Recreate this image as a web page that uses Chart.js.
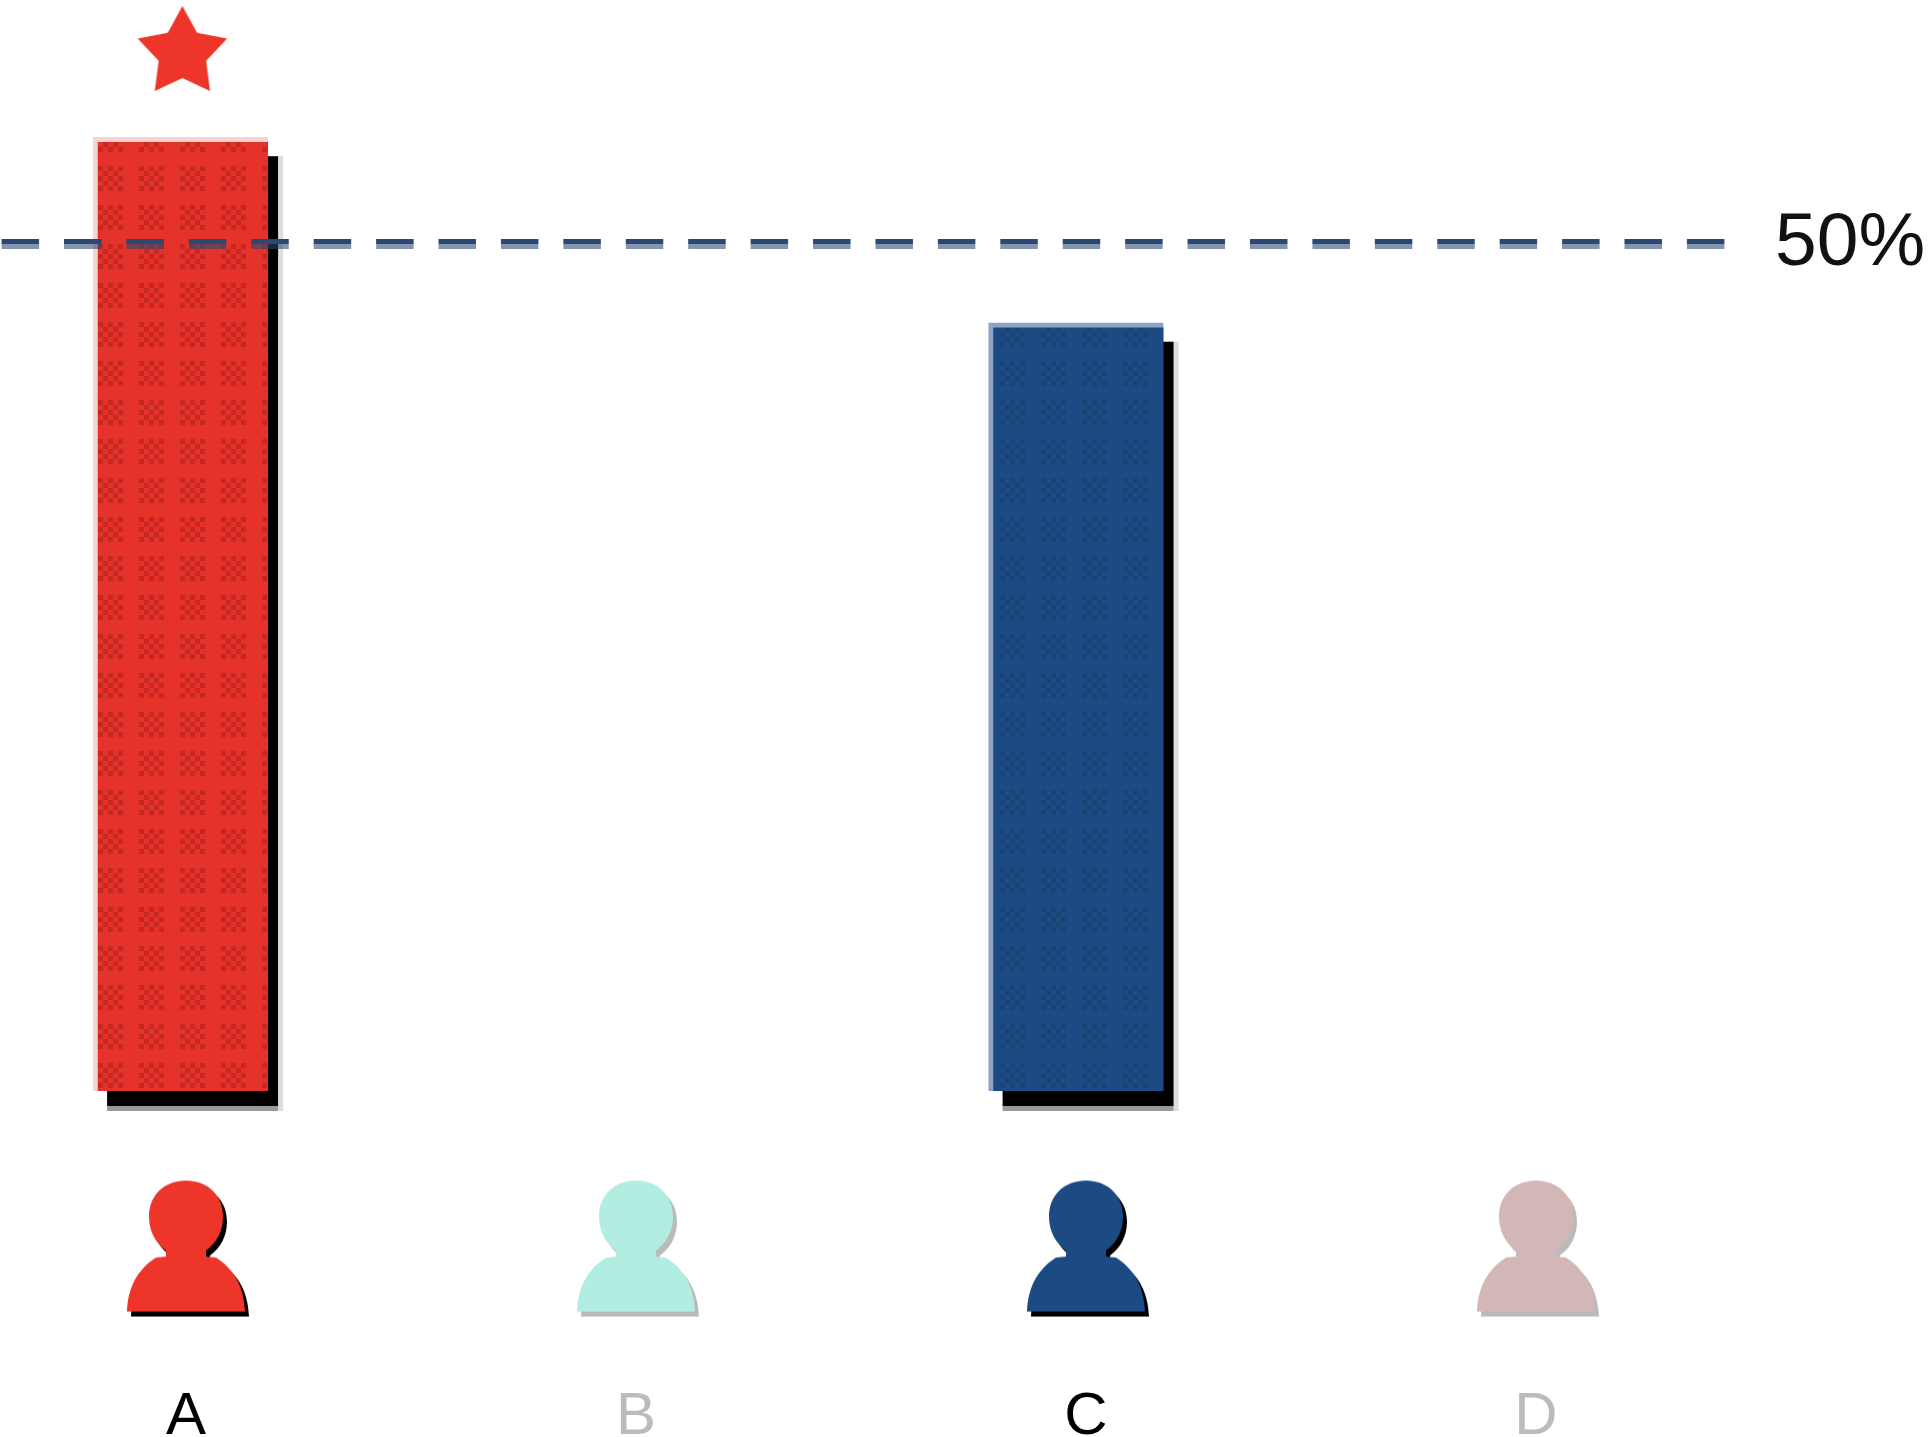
<!DOCTYPE html>
<html>
<head>
<meta charset="utf-8">
<style>html,body{margin:0;padding:0;background:#fff;overflow:hidden}canvas{display:block}</style>
<script src="https://cdn.jsdelivr.net/npm/chart.js@4"></script>
</head>
<body>
<canvas id="c" width="1929" height="1437"></canvas>
<script>
const categories = ['A', 'B', 'C', 'D'];
const categoryPositions = [0, 1, 2, 3];
const barPositions = [-0.012, null, 1.978, null];
const barValues = [56.3, null, 45.35, null];
const iconValues = [-9.18, -9.18, -9.18, -9.18];
const starPosition = [-0.008];
const starValue = [61.27];
const thresholdValue = 50;
const thresholdSpan = [-0.4098, 3.4255];
const thresholdLabel = '50%';
const barFill = ['#e5322b', null, '#1c4a82', null];
const barSpot = ['#b8241d', null, '#17406f', null];
const barEdge = ['#f7d3d1', null, '#8ea4c4', null];
const iconFill = ['#ee3529', '#b2ede1', '#1c4a82', '#d3b7b7'];
const iconShadow = ['#000000', 'rgba(0,0,0,0.27)', '#000000', 'rgba(0,0,0,0.27)'];
const labelColor = ['#000000', '#bbbbbb', '#000000', '#bbbbbb'];
const FONT = '"Liberation Sans", Arial, sans-serif';

function checkerPattern(ctx, base, spot) {
  const p = document.createElement('canvas');
  p.width = 41; p.height = 39;
  const g = p.getContext('2d');
  g.fillStyle = base; g.fillRect(0, 0, 41, 39);
  g.fillStyle = spot;
  g.globalAlpha = 0.65;
  for (let r = 0; r < 5; r++) for (let q = 0; q < 5; q++) {
    if ((r + q) % 2 === 0) g.fillRect((16 + q * 5) % 41, (10 + r * 5) % 39, 5, 5);
  }
  return ctx.createPattern(p, 'repeat');
}

function personIcon(fill, shadow) {
  const c = document.createElement('canvas');
  c.width = 150; c.height = 160;
  const g = c.getContext('2d');
  g.translate(75, 14);
  g.shadowColor = shadow; g.shadowOffsetX = 4; g.shadowOffsetY = 5; g.shadowBlur = 0;
  g.fillStyle = fill;
  g.beginPath();
  g.moveTo(-59, 131);
  g.bezierCurveTo(-58, 108, -50, 90, -30, 77);
  g.lineTo(-20, 76);
  g.lineTo(-20, 70);
  g.bezierCurveTo(-31, 62, -37, 50, -37, 36);
  g.bezierCurveTo(-37, 14, -21, 0, 0, 0);
  g.bezierCurveTo(21, 0, 37, 14, 37, 36);
  g.bezierCurveTo(37, 50, 31, 62, 20, 70);
  g.lineTo(20, 76);
  g.lineTo(30, 77);
  g.bezierCurveTo(50, 90, 58, 108, 59, 131);
  g.closePath();
  g.fill();
  return c;
}

function starIcon(fill) {
  const c = document.createElement('canvas');
  c.width = 104; c.height = 104;
  const g = c.getContext('2d');
  g.translate(52, 52);
  g.fillStyle = fill;
  g.beginPath();
  for (let i = 0; i < 10; i++) {
    const r = i % 2 ? 25 : 47, a = -Math.PI / 2 + i * Math.PI / 5;
    g[i ? 'lineTo' : 'moveTo'](r * Math.cos(a), r * Math.sin(a));
  }
  g.closePath();
  g.fill();
  return c;
}

const ctx = document.getElementById('c').getContext('2d');

const shadowPlugin = {
  id: 'barShadow',
  beforeDatasetDraw(chart, args) {
    const ds = chart.data.datasets[args.index];
    if (ds.type !== 'bar') return;
    const k = chart.ctx;
    args.meta.data.forEach((el, i) => {
      if (barValues[i] === null) return;
      const {x, y, base, width} = el.getProps(['x', 'y', 'base', 'width'], true);
      const l = x - width / 2 + 14, r = x + width / 2 + 10, t = y + 19, b = base + 15;
      k.save();
      k.fillStyle = '#dddddd'; k.fillRect(r, t, 5, b - t + 5);
      k.fillStyle = '#999999'; k.fillRect(l, b, r - l, 5);
      k.fillStyle = '#000000'; k.fillRect(l, t, r - l, b - t);
      k.restore();
    });
  }
};

new Chart(ctx, {
  data: {
    datasets: [
      {
        type: 'line', label: 'Threshold', order: 0,
        data: thresholdSpan.map((x) => ({x, y: thresholdValue})),
        borderWidth: 10, borderDash: [37.5, 24.92], pointRadius: 0, fill: false,
        borderCapStyle: 'butt', clip: false,
        borderColor(c) {
          const s = c.chart.scales.y;
          if (!s || !c.chart.chartArea) return '#2a4870';
          const y = s.getPixelForValue(thresholdValue);
          const gr = c.chart.ctx.createLinearGradient(0, y - 5, 0, y + 5);
          gr.addColorStop(0, '#2a4870'); gr.addColorStop(0.5, '#2a4870');
          gr.addColorStop(0.5, 'rgba(42,72,112,0.58)'); gr.addColorStop(1, 'rgba(42,72,112,0.58)');
          return gr;
        }
      },
      {
        type: 'line', label: 'Best', order: 1, showLine: false, clip: false,
        data: starValue.map((v, i) => ({x: starPosition[i], y: v})),
        pointStyle: starIcon('#ee3529'), pointRadius: 50, pointHoverRadius: 50
      },
      {
        type: 'line', label: 'People', order: 2, showLine: false, clip: false,
        data: iconValues.map((v, i) => ({x: categoryPositions[i], y: v})),
        pointStyle: iconFill.map((f, i) => personIcon(f, iconShadow[i])), pointRadius: 70
      },
      {
        type: 'bar', label: 'Value', order: 3, clip: false,
        data: barValues.map((v, i) => ({x: barPositions[i], y: v})),
        barThickness: 175,
        backgroundColor: barFill.map((f, i) => f ? checkerPattern(ctx, f, barSpot[i]) : 'transparent'),
        borderColor: barEdge.map((e) => e || 'transparent'),
        borderWidth: {left: 5, top: 5, right: 0, bottom: 0},
        borderSkipped: false
      }
    ]
  },
  plugins: [shadowPlugin],
  options: {
    responsive: false, animation: false,
    layout: {padding: 0, autoPadding: false},
    plugins: {legend: {display: false}, tooltip: {enabled: false}, title: {display: false}},
    scales: {
      x: {
        type: 'linear', position: 'bottom', min: -0.4133, max: 3.4978, offset: false,
        grid: {display: false}, border: {display: false},
        afterBuildTicks(a) { a.ticks = categoryPositions.map((value) => ({value})); },
        afterFit(a) { a.height = 67; a.paddingLeft = 0; a.paddingRight = 0; },
        ticks: {
          autoSkip: false, maxRotation: 0, padding: 3,
          font: {family: FONT, size: 60},
          callback(v) { return categories[categoryPositions.indexOf(v)]; },
          color(c) { return labelColor[c.index]; }
        }
      },
      y: {
        type: 'linear', position: 'right', min: -16.47, max: 64.40,
        grid: {display: false}, border: {display: false},
        afterBuildTicks(a) { a.ticks = [{value: thresholdValue}]; },
        afterFit(a) { a.width = 169; a.paddingTop = 0; a.paddingBottom = 0; },
        ticks: {
          padding: 7, color: '#111111',
          font: {family: FONT, size: 75},
          callback() { return thresholdLabel; }
        }
      }
    }
  }
});
</script>
</body>
</html>
